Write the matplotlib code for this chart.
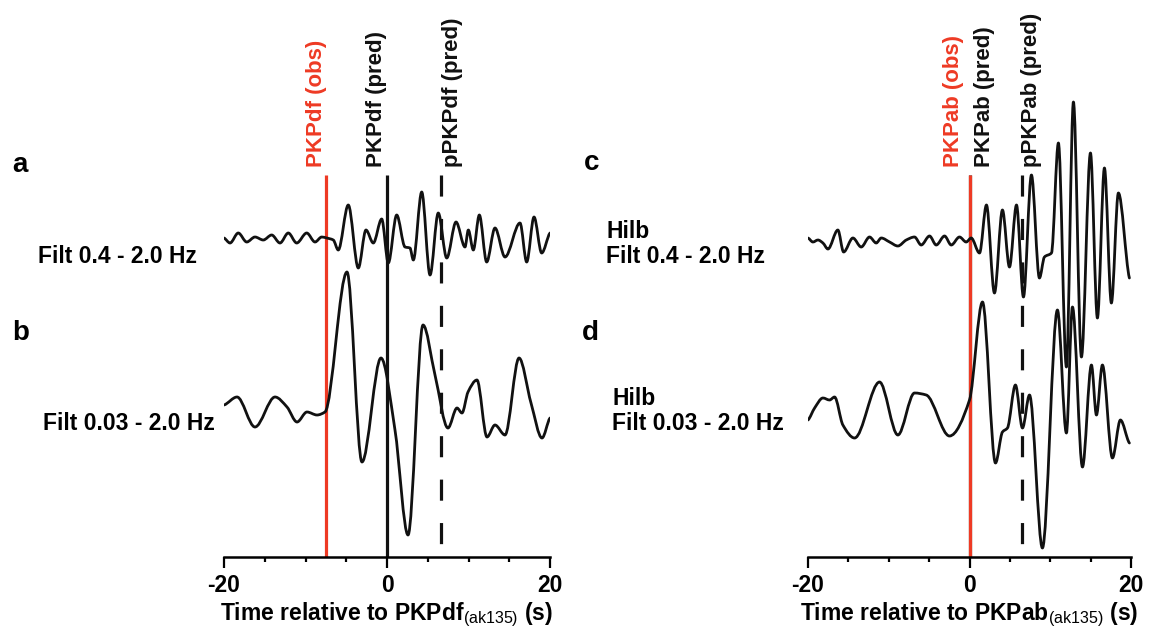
import numpy as np
import matplotlib.pyplot as plt
from matplotlib.path import Path
from matplotlib.patches import PathPatch

plt.rcParams['font.family'] = ['Liberation Sans', 'DejaVu Sans']
plt.rcParams['font.weight'] = 'bold'
plt.rcParams['axes.unicode_minus'] = False
plt.rcParams['mathtext.fontset'] = 'custom'
plt.rcParams['mathtext.rm'] = 'Liberation Sans:weight=normal'
plt.rcParams['mathtext.default'] = 'rm'

# picked peaks / troughs of each trace: time (s) and amplitude (arb. units)
time_a = [-20.0, -19.26, -18.25, -17.21, -16.20, -15.18, -14.15, -13.13, -12.11, -11.08, -9.85,
          -8.83, -8.01, -7.40, -6.59, -5.98, -4.75, -3.52, -2.58, -1.68, -0.65, 0.16, 1.19,
          2.21, 2.82, 3.23, 4.26, 5.28, 6.29, 7.33, 8.47, 9.57, 9.98, 10.59, 11.33, 12.23,
          13.25, 14.48, 16.32, 17.14, 18.04, 18.98, 20.0]
amp_a = [0, -5, 5, -4, 1, -2, 3, -5, 5, -5, 5, -4, 1, 0, -2, -12, 33, -30, 8, -5, 19, -25,
         23, -9, -10, -22, 46, -37, 25, -20, 16, -9, 8, -12, 23, -24, 10, -19, 15, -24, 21,
         -15, 5]

time_b = [-20.0, -18.40, -16.20, -13.74, -12.27, -11.04, -9.82, -8.59, -7.61, -4.91, -3.07,
          -0.74, 0.98, 2.58, 4.42, 5.89, 7.48, 8.59, 9.20, 9.94, 11.04, 12.27, 13.25, 14.48,
          16.20, 17.67, 19.02, 20.0]
amp_b = [0, 8, -22, 8, -2, -17, -7, -10, -7, 133, -57, 47, -25, -130, 80, 30, -23, -3, -8,
         13, 25, -32, -20, -30, 47, 2, -33, -13]

time_c = [-20.0, -19.39, -18.77, -18.15, -17.53, -16.30, -15.59, -14.44, -13.41, -12.38,
          -11.55, -10.93, -9.90, -8.87, -7.83, -6.81, -5.98, -4.95, -4.12, -3.09, -2.26,
          -1.24, -0.41, 0.21, 1.24, 2.10, 3.09, 4.08, 4.95, 5.82, 6.68, 7.67, 8.66, 9.28,
          10.15, 11.01, 12.0, 12.87, 13.86, 14.98, 15.84, 16.71, 17.57, 18.44, 19.80]
amp_c = [0, -4, -2, -5, -11, 8, -14, 0, -9, 1, -5, 0, -4, -8, -2, 1, -7, 2, -7, 2, -7, 1,
         -4, 0, -15, 33, -55, 28, -29, 33, -59, 63, -40, -19, -15, 95, -129, 136, -119, 85,
         -80, 70, -65, 45, -40]

time_d = [-20.0, -19.18, -18.15, -17.33, -16.71, -15.68, -14.23, -11.14, -8.87, -6.81, -5.36,
          -2.48, 0.0, 1.61, 3.22, 4.08, 4.70, 5.69, 6.56, 7.43, 9.03, 10.89, 12.0, 12.75,
          13.99, 15.10, 15.72, 16.46, 17.70, 18.69, 19.80]
amp_d = [-5, 7, 17, 15, 18, -10, -23, 33, -20, 22, 20, -21, 15, 113, -48, -17, -13, 30, -13,
         20, -133, 105, -18, 108, -52, 50, 0, 50, -43, -5, -28]

# phase times (s)
obs_df, pred_df, ppred_df = -7.5, 0.0, 6.6
obs_ab, pred_ab, ppred_ab = 0.0, 0.0, 6.5

RED = '#ee3a24'


def trace_path(t, y):
    # piecewise cubic through the picks (flat at extrema, pchip-style slopes)
    t = np.asarray(t, float)
    y = np.asarray(y, float)
    h = np.diff(t)
    d = np.diff(y) / h
    m = np.zeros_like(y)
    for i in range(1, len(y) - 1):
        if d[i - 1] * d[i] > 0:
            w1 = 2 * h[i] + h[i - 1]
            w2 = h[i] + 2 * h[i - 1]
            m[i] = (w1 + w2) / (w1 / d[i - 1] + w2 / d[i])
    m[0] = 0.5 * d[0]
    m[-1] = 0.5 * d[-1]
    verts = [(t[0], y[0])]
    codes = [Path.MOVETO]
    for i in range(len(h)):
        verts += [(t[i] + h[i] / 3, y[i] + m[i] * h[i] / 3),
                  (t[i + 1] - h[i] / 3, y[i + 1] - m[i + 1] * h[i] / 3),
                  (t[i + 1], y[i + 1])]
        codes += [Path.CURVE4] * 3
    return Path(verts, codes)


def draw_trace(ax, t, amp, offset):
    y = np.asarray(amp, float) + offset
    ax.add_patch(PathPatch(trace_path(t, y), fill=False, lw=2.0, ec='#111111',
                           capstyle='round', joinstyle='round', zorder=3))


def style_axis(ax, label):
    ax.set_xlim(-20, 20)
    ax.set_ylim(0, 557)
    ax.patch.set_alpha(0)
    for s in ['left', 'right', 'top']:
        ax.spines[s].set_visible(False)
    ax.spines['bottom'].set_linewidth(1.8)
    ax.set_yticks([])
    ax.set_xticks([-20, 0, 20])
    ax.set_xticks(np.arange(-15, 20, 5), minor=True)
    ax.tick_params(axis='x', which='major', length=8, width=1.6, pad=4, labelsize=16.5)
    ax.tick_params(axis='x', which='minor', length=3.5, width=1.6)
    ax.set_xlabel(label, fontsize=16.5, fontweight='bold', labelpad=3)


def vline(ax, x, color, dashed=False):
    ls = (0, (6.6, 7.0)) if dashed else '-'
    ax.plot([x, x], [382, 0], color=color, lw=2.3, ls=ls, solid_capstyle='butt', zorder=2)


fig = plt.figure(figsize=(11.51, 6.27), dpi=100)
W, H = 1151, 627

ax1 = fig.add_axes([224 / W, 70 / H, 326 / W, 557 / H])
ax2 = fig.add_axes([808 / W, 70 / H, 323 / W, 557 / H])

# left panel: PKPdf
vline(ax1, pred_df, '#111111')
vline(ax1, ppred_df, '#111111', dashed=True)
vline(ax1, obs_df, RED)
draw_trace(ax1, time_a, amp_a, 319)
draw_trace(ax1, time_b, amp_b, 152)
style_axis(ax1, r'Time relative to PKPdf$_{\mathrm{(ak135)}}$ (s)')

# right panel: PKPab
vline(ax2, pred_ab, '#111111')
vline(ax2, ppred_ab, '#111111', dashed=True)
vline(ax2, obs_ab, RED)
draw_trace(ax2, time_c, amp_c, 319)
draw_trace(ax2, time_d, amp_d, 142)
style_axis(ax2, r'Time relative to PKPab$_{\mathrm{(ak135)}}$ (s)')

# phase labels above the lines
lab_kw = dict(rotation=90, ha='center', va='bottom', fontsize=16, fontweight='bold',
              clip_on=False)
ax1.text(-8.7, 390, 'PKPdf (obs)', color=RED, **lab_kw)
ax1.text(-1.3, 390, 'PKPdf (pred)', color='#111111', **lab_kw)
ax1.text(8.0, 390, 'pPKPdf (pred)', color='#111111', **lab_kw)
ax2.text(-2.0, 390, 'PKPab (obs)', color=RED, **lab_kw)
ax2.text(1.9, 390, 'PKPab (pred)', color='#111111', **lab_kw)
ax2.text(7.7, 390, 'pPKPab (pred)', color='#111111', **lab_kw)


def ftext(px, py, s, **kw):
    fig.text(px / W, 1 - py / H, s, va='baseline', fontweight='bold', **kw)


ftext(12, 172, 'a', fontsize=20)
ftext(12, 340, 'b', fontsize=20)
ftext(584, 170, 'c', fontsize=20)
ftext(582, 340, 'd', fontsize=20)
ftext(197, 263, 'Filt 0.4 - 2.0 Hz', fontsize=16.5, ha='right')
ftext(215, 430, 'Filt 0.03 - 2.0 Hz', fontsize=16.5, ha='right')
ftext(606, 238, 'Hilb', fontsize=16.5)
ftext(606, 263, 'Filt 0.4 - 2.0 Hz', fontsize=16.5)
ftext(612, 405, 'Hilb', fontsize=16.5)
ftext(612, 430, 'Filt 0.03 - 2.0 Hz', fontsize=16.5)

fig.savefig('out.png', dpi=100)
